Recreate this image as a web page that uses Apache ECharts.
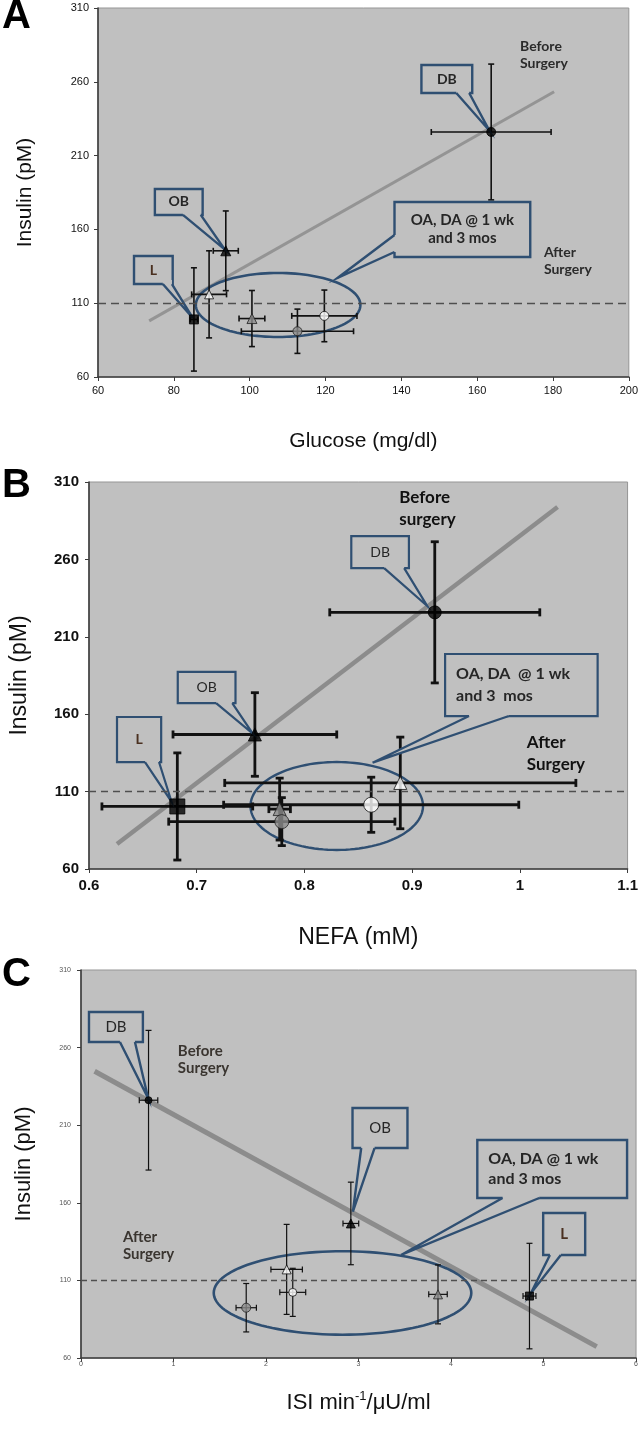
<!DOCTYPE html>
<html><head><meta charset="utf-8">
<style>html,body{margin:0;padding:0;background:#fff}#c{width:641px;height:1434px}</style>
<script src="https://cdn.jsdelivr.net/npm/echarts@6/dist/echarts.min.js"></script>
</head><body><div id="c"></div>
<script>
// ---------------- DATA ----------------
const groups = ['L', 'OB', 'DB', 'wTri', 'wCir', 'gTri', 'gCir'];

// Panel A: glucose vs insulin
const glucoseX    = [85.3, 93.7, 163.7, 89.3, 119.7, 100.6, 112.6];
const glucoseXErr = [1.0, 3.3, 15.8, 4.6, 8.6, 3.4, 14.8];
const insulinA    = [99, 145.5, 226, 116, 101.4, 99.6, 91];
const insulinAErr = [35, 27, 46, 29.5, 17.5, 19, 15];

// Panel B: NEFA vs insulin
const nefaX    = [0.682, 0.754, 0.921, 0.889, 0.862, 0.777, 0.779];
const nefaXErr = [0.07, 0.076, 0.0975, 0.163, 0.137, 0.01, 0.105];
const insulinB    = [100.4, 146.9, 225.8, 115.6, 101.5, 98.7, 90.6];
const insulinBErr = [34.6, 27, 45.6, 29.6, 17.8, 20, 15.5];

// Panel C: ISI vs insulin
const isiX    = [4.848, 2.917, 0.73, 2.223, 2.289, 3.859, 1.786];
const isiXErr = [0.07, 0.085, 0.1, 0.17, 0.14, 0.1, 0.11];
const insulinC    = [99.9, 146.7, 226.1, 117.1, 102.3, 101, 92.4];
const insulinCErr = [34, 26.6, 45, 29, 15.5, 19, 15.6];

// Regression lines (end points)
const trendA = [[73.5, 98], [180.3, 253.3]];
const trendB = [[0.626, 76.2], [1.035, 293.9]];
const trendC = [[0.147, 244.8], [5.575, 67.3]];
const refInsulin = 110;

// Axis ticks
const insulinTicks = {min: 60, max: 310, interval: 50};
const glucoseTicks = {min: 60, max: 200, interval: 20};
const nefaTicks    = {min: 0.6, max: 1.1, interval: 0.1};
const isiTicks     = {min: 0, max: 6, interval: 1};

// Annotations (data coordinates)
const annA = [
  {kind:'ellipse', c:[107.5, 108.8], r:[21.7, 21.7]},
  {kind:'callout', text:'DB', box:[145.3, 271.4, 158.7, 252.4], base:[[154.5, 252.4], [157.9, 252.4]], tip:[163.2, 227]},
  {kind:'callout', text:'OB', box:[75, 187.4, 87.6, 169.8], base:[[82.4, 169.8], [87.1, 169.8]], tip:[93.4, 146.5]},
  {kind:'callout', text:'L', box:[69.5, 142, 79.7, 123], base:[[77.1, 123], [79.5, 123]], tip:[85, 100], brown:true},
  {kind:'callout', text:'OA, DA @ 1 wk\nand 3 mos', box:[138.2, 178.6, 174, 141.3], base:[[138.2, 156.2], [138.2, 144.7]], tip:[123.2, 127.1]},
  {kind:'text', text:'Before\nSurgery', at:[171.3, 289.5]},
  {kind:'text', text:'After\nSurgery', at:[177.6, 150]}
];
const annB = [
  {kind:'ellipse', c:[0.830, 100.7], r:[0.0801, 28.4]},
  {kind:'callout', text:'DB', box:[0.8435, 275.1, 0.897, 254.4], base:[[0.874, 254.4], [0.8926, 254.4]], tip:[0.914, 229.9]},
  {kind:'callout', text:'OB', box:[0.6824, 187.3, 0.736, 167.2], base:[[0.718, 167.2], [0.733, 167.2]], tip:[0.752, 147.5]},
  {kind:'callout', text:'L', box:[0.626, 158.2, 0.667, 129.1], base:[[0.652, 129.1], [0.665, 129.1]], tip:[0.6766, 103.5], brown:true, bold:true},
  {kind:'callout', text:'OA, DA  @ 1 wk\nand 3  mos', box:[0.9306, 198.9, 1.0722, 158.8], base:[[0.9528, 158.8], [0.9898, 158.8]], tip:[0.8633, 128.7], left:true, bold:true},
  {kind:'text', text:'Before\nsurgery', at:[0.888, 307]},
  {kind:'text', text:'After\nSurgery', at:[1.0065, 149]}
];
const annC = [
  {kind:'ellipse', c:[2.827, 101.9], r:[1.392, 26.9]},
  {kind:'callout', text:'DB', box:[0.0863, 282.9, 0.669, 263.6], base:[[0.421, 263.6], [0.583, 263.6]], tip:[0.726, 227.3]},
  {kind:'callout', text:'OB', box:[2.935, 221.1, 3.529, 195.3], base:[[3.029, 195.3], [3.173, 195.3]], tip:[2.939, 154.3]},
  {kind:'callout', text:'OA, DA @ 1 wk\nand 3 mos', box:[4.284, 200.5, 5.903, 163.1], base:[[4.557, 163.1], [4.953, 163.1]], tip:[3.46, 126.4], left:true, bold:true},
  {kind:'callout', text:'L', box:[4.996, 153.4, 5.45, 126.4], base:[[5.069, 126.4], [5.187, 126.4]], tip:[4.863, 101.7], bold:true, brown:true},
  {kind:'text', text:'Before\nSurgery', at:[1.047, 263.5]},
  {kind:'text', text:'After\nSurgery', at:[0.453, 143.5]}
];

// ---------------- STYLE ----------------
const BG = '#c0c0c0';
const BLUE = '#2f4f72';
const FONT_AX = '"Liberation Sans", Arial, sans-serif';
const FONT_CL = 'Lato, "Open Sans", sans-serif';

const MK = {
  L:    {symbol:'rect',     fill:'#000', stroke:'#000'},
  OB:   {symbol:'triangle', fill:'#000', stroke:'#000'},
  DB:   {symbol:'circle',   fill:'#000', stroke:'#000'},
  wTri: {symbol:'triangle', fill:'#fff', stroke:'#111'},
  wCir: {symbol:'circle',   fill:'#fff', stroke:'#111'},
  gTri: {symbol:'triangle', fill:'#8c8c8c', stroke:'#222'},
  gCir: {symbol:'circle',   fill:'#8c8c8c', stroke:'#222'}
};

const panels = [
  { grid:{left:98, top:8, width:532, height:369},
    xt:glucoseTicks, xName:'Glucose (mg/dl)', xGap:54, yGap:62, nameSize:21,
    lab:{fontSize:11, fontWeight:'normal', color:'#111'}, xLabMargin:8, yLabMargin:9,
    xs:glucoseX, xe:glucoseXErr, ys:insulinA, ye:insulinAErr, trend:trendA,
    sizes:[9, 10, 9, 9, 9, 10, 9], bw:1, errW:1.6, cap:3, trendW:3, trendColor:'#949494', dash:[8,5],
    ann:annA, callW:2.4, ellW:2.6,
    calloutFont:{size:14, weight:'bold', lh:18}, bigFont:{size:15, weight:'bold', lh:18},
    freeFont:{size:14, weight:'bold', lh:17, color:'#2b2b2b'}, fmt:null },
  { grid:{left:89, top:482, width:540, height:387},
    xt:nefaTicks, xName:'NEFA (mM)', xGap:57, yGap:58, nameSize:23,
    lab:{fontSize:15, fontWeight:'bold', color:'#111'}, xLabMargin:9, yLabMargin:10,
    xs:nefaX, xe:nefaXErr, ys:insulinB, ye:insulinBErr, trend:trendB,
    sizes:[15, 13, 13, 13, 15, 13, 14], bw:1, errW:2.8, cap:4, trendW:4.5, trendColor:'#8c8c8c', dash:[7,5],
    ann:annB, callW:2.2, ellW:2.4,
    calloutFont:{size:14, weight:'normal', lh:20}, bigFont:{size:16, weight:'bold', lh:22},
    freeFont:{size:17, weight:'bold', lh:22, color:'#111'},
    fmt:v => String(Math.round(v * 10) / 10) },
  { grid:{left:81, top:970, width:556, height:388},
    xt:isiTicks, xName:'ISI', xGap:32, yGap:46, nameSize:22,
    lab:{fontSize:7, fontWeight:'normal', color:'#555'}, xLabMargin:3, yLabMargin:10,
    xs:isiX, xe:isiXErr, ys:insulinC, ye:insulinCErr, trend:trendC,
    sizes:[8, 9, 7, 9, 8, 9, 9], bw:1, errW:1.2, cap:3, trendW:5, trendColor:'#8c8c8c', dash:[6,4],
    ann:annC, callW:2.4, ellW:2.6,
    calloutFont:{size:15, weight:'normal', lh:20}, bigFont:{size:16, weight:'bold', lh:20},
    freeFont:{size:15, weight:'bold', lh:17, color:'#3a3530'}, fmt:null }
];

// ---------------- RENDERERS ----------------
function errRender(cap, w) {
  return function (params, api) {
    const x = api.value(0), y = api.value(1), xe = api.value(2), ye = api.value(3);
    const c = api.coord([x, y]);
    const l = api.coord([x - xe, y]), r = api.coord([x + xe, y]);
    const t = api.coord([x, y + ye]), b = api.coord([x, y - ye]);
    const st = {stroke:'#111', lineWidth:w};
    const ln = (x1, y1, x2, y2) => ({type:'line', shape:{x1, y1, x2, y2}, style:st});
    return {type:'group', children:[
      ln(l[0], c[1], r[0], c[1]),
      ln(l[0], c[1] - cap, l[0], c[1] + cap),
      ln(r[0], c[1] - cap, r[0], c[1] + cap),
      ln(c[0], t[1], c[0], b[1]),
      ln(c[0] - cap, t[1], c[0] + cap, t[1]),
      ln(c[0] - cap, b[1], c[0] + cap, b[1])
    ]};
  };
}

function ellipseRender(list, w) {
  return function (params, api) {
    const a = list[params.dataIndex];
    const c = api.coord(a.c);
    const s = api.size([a.r[0], a.r[1]]);
    const pts = [];
    for (let k = 0; k < 120; k++) {
      const t = k / 120 * Math.PI * 2;
      pts.push([c[0] + s[0] * Math.cos(t), c[1] + s[1] * Math.sin(t)]);
    }
    return {type:'polygon', shape:{points:pts}, style:{fill:'none', stroke:BLUE, lineWidth:w}};
  };
}

function annRender(list, P) {
  return function (params, api) {
    const a = list[params.dataIndex];
    if (a.kind === 'text') {
      const p = api.coord(a.at);
      const f = P.freeFont;
      return {type:'text', x:p[0], y:p[1], style:{text:a.text, fill:f.color,
        fontSize:f.size, fontWeight:f.weight, fontFamily:FONT_CL, lineHeight:f.lh,
        align:'left', verticalAlign:'top'}};
    }
    const p0 = api.coord([a.box[0], a.box[1]]), p1 = api.coord([a.box[2], a.box[3]]);
    const x0 = Math.min(p0[0], p1[0]), x1 = Math.max(p0[0], p1[0]);
    const y0 = Math.min(p0[1], p1[1]), y1 = Math.max(p0[1], p1[1]);
    const b1 = api.coord(a.base[0]), b2 = api.coord(a.base[1]), tp = api.coord(a.tip);
    function inward(p) {
      const d = [Math.abs(p[0] - x0), Math.abs(p[0] - x1), Math.abs(p[1] - y0), Math.abs(p[1] - y1)];
      const m = d.indexOf(Math.min.apply(null, d));
      if (m === 0) return [p[0] + 4, p[1]];
      if (m === 1) return [p[0] - 4, p[1]];
      if (m === 2) return [p[0], p[1] + 4];
      return [p[0], p[1] - 4];
    }
    const f = a.text.indexOf('\n') >= 0 ? P.bigFont : P.calloutFont;
    const weight = a.bold ? 'bold' : f.weight;
    const tx = a.left ? x0 + 11 : (x0 + x1) / 2;
    return {type:'group', children:[
      {type:'rect', shape:{x:x0, y:y0, width:x1 - x0, height:y1 - y0}, style:{fill:BG, stroke:BLUE, lineWidth:P.callW}},
      {type:'polygon', shape:{points:[inward(b1), b1, tp, b2, inward(b2)]}, style:{fill:BG, stroke:null}},
      {type:'polyline', shape:{points:[b1, tp, b2]}, style:{fill:'none', stroke:BLUE, lineWidth:P.callW, lineJoin:'miter'}},
      {type:'text', x:tx, y:(y0 + y1) / 2, style:{text:a.text, fill:a.brown ? '#4a3020' : '#262626',
        fontSize:f.size, fontWeight:weight, fontFamily:FONT_CL, lineHeight:f.lh,
        align:a.left ? 'left' : 'center', verticalAlign:'middle'}}
    ]};
  };
}

// ---------------- OPTION ----------------
const grids = [], xAxes = [], yAxes = [], series = [];
panels.forEach((P, i) => {
  grids.push(Object.assign({show:true, backgroundColor:BG, borderColor:'#959595', borderWidth:1, containLabel:false}, P.grid));
  const axLine = {show:true, onZero:false, lineStyle:{color:'#3c3c3c', width:1.6}};
  const tick = {show:true, length:4, lineStyle:{color:'#3c3c3c', width:1}};
  const xName = i === 2
    ? '{n|ISI min}{s|-1}{n|/μU/ml}'
    : P.xName;
  xAxes.push({gridIndex:i, type:'value', min:P.xt.min, max:P.xt.max, interval:P.xt.interval,
    name:xName, nameLocation:'middle', nameGap:P.xGap,
    nameTextStyle:{fontFamily:FONT_AX, fontSize:P.nameSize, color:'#111',
      rich:{n:{fontFamily:FONT_AX, fontSize:P.nameSize, color:'#111', lineHeight:26},
            s:{fontFamily:FONT_AX, fontSize:13, color:'#111', verticalAlign:'top', lineHeight:14}}},
    axisLine:axLine, axisTick:tick,
    axisLabel:Object.assign({fontFamily:FONT_AX, margin:P.xLabMargin, formatter:P.fmt || undefined}, P.lab),
    splitLine:{show:false}});
  yAxes.push({gridIndex:i, type:'value', min:insulinTicks.min, max:insulinTicks.max, interval:insulinTicks.interval,
    name:'Insulin (pM)', nameLocation:'middle', nameGap:P.yGap,
    nameTextStyle:{fontFamily:FONT_AX, fontSize:P.nameSize, color:'#111'},
    axisLine:axLine, axisTick:tick,
    axisLabel:Object.assign({fontFamily:FONT_AX, margin:P.yLabMargin}, P.lab),
    splitLine:{show:false}});

  // trend line + reference line
  series.push({type:'line', xAxisIndex:i, yAxisIndex:i, data:P.trend, symbol:'none', silent:true, z:1,
    lineStyle:{color:P.trendColor, width:P.trendW, cap:'butt'},
    markLine:{symbol:'none', silent:true, label:{show:false},
      lineStyle:{type:P.dash, color:'#4f4f4f', width:1.3}, data:[{yAxis:refInsulin}]}});

  // ellipse
  const ells = P.ann.filter(a => a.kind === 'ellipse');
  series.push({type:'custom', xAxisIndex:i, yAxisIndex:i, z:2, silent:true,
    renderItem:ellipseRender(ells, P.ellW), data:ells.map(a => a.c), encode:{x:0, y:1}});

  // error bars
  series.push({type:'custom', xAxisIndex:i, yAxisIndex:i, z:3, silent:true,
    renderItem:errRender(P.cap, P.errW),
    data:groups.map((g, k) => [P.xs[k], P.ys[k], P.xe[k], P.ye[k]]), encode:{x:0, y:1}});

  // callouts + free text
  const rest = P.ann.filter(a => a.kind !== 'ellipse');
  series.push({type:'custom', xAxisIndex:i, yAxisIndex:i, z:4, silent:true,
    renderItem:annRender(rest, P),
    data:rest.map(a => a.kind === 'text' ? a.at : [a.box[0], a.box[1]]), encode:{x:0, y:1}});

  // markers
  series.push({type:'scatter', xAxisIndex:i, yAxisIndex:i, z:5, silent:true,
    data:groups.map((g, k) => ({value:[P.xs[k], P.ys[k]], symbol:MK[g].symbol, symbolSize:P.sizes[k],
      itemStyle:{color:MK[g].fill, borderColor:MK[g].stroke, borderWidth:P.bw}}))});
});

const chart = echarts.init(document.getElementById('c'), null, {renderer:'canvas', width:641, height:1434});
chart.setOption({
  animation:false,
  backgroundColor:'#fff',
  grid:grids, xAxis:xAxes, yAxis:yAxes, series:series,
  graphic:[
    {type:'text', left:2, top:-3, style:{text:'A', fontSize:40, fontWeight:'bold', fontFamily:FONT_AX, fill:'#000'}},
    {type:'text', left:2, top:466, style:{text:'B', fontSize:40, fontWeight:'bold', fontFamily:FONT_AX, fill:'#000'}},
    {type:'text', left:2, top:955, style:{text:'C', fontSize:40, fontWeight:'bold', fontFamily:FONT_AX, fill:'#000'}}
  ]
});
</script>
</body></html>
